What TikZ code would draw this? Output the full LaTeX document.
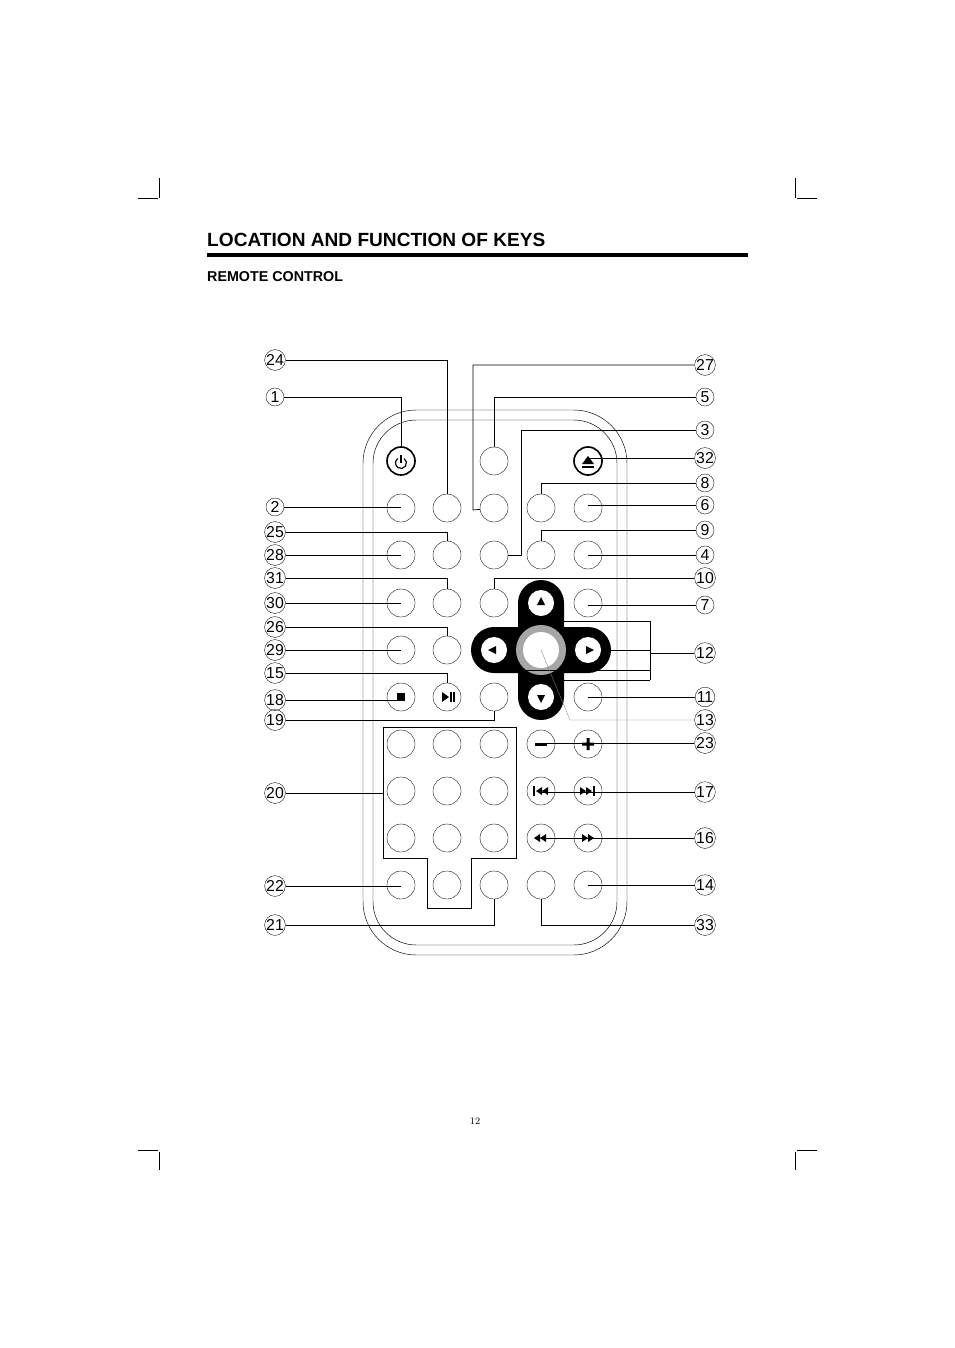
\documentclass[tikz,border=0pt]{standalone}
\usepackage{fontspec}
\setmainfont{Liberation Sans}
\begin{document}
\begin{tikzpicture}[x=0.03cm,y=-0.03cm,
    key/.style={circle,draw,line width=0.3pt,minimum size=0.84cm,inner sep=0},
    bigkey/.style={circle,draw,line width=1.4pt,minimum size=0.84cm,inner sep=0},
    padkey/.style={circle,fill=white,minimum size=0.78cm,inner sep=0},
    callout/.style={circle,draw,line width=0.3pt,inner sep=0,minimum size=0.54cm,font=\fontsize{13.5}{14}\selectfont},
    lead/.style={line width=0.6pt},
    crop/.style={line width=0.6pt}]
\useasboundingbox (0,0) rectangle (954,1348);

% Crop marks
\draw [crop] (159,178) -- (159,198) (138,198) -- (158,198);
\draw [crop] (795,178) -- (795,198) (797,198) -- (817,198);
\draw [crop] (159,1152) -- (159,1170) (138,1150) -- (158,1150);
\draw [crop] (795,1152) -- (795,1170) (797,1150) -- (817,1150);

% Heading
\node [anchor=base west,inner sep=0,font=\bfseries\fontsize{16.3}{18}\selectfont] (title) at (207,246) {LOCATION AND FUNCTION OF KEYS};
\draw [line width=2.6pt] (207,255) -- (748,255);
\node [anchor=base west,inner sep=0,font=\bfseries\fontsize{12.2}{14}\selectfont] (sub) at (207,281) {REMOTE CONTROL};
\node [inner sep=0,font=\fontfamily{lmr}\selectfont\fontsize{8.5}{10}\selectfont] (page) at (475,1121) {12};

% Remote body
\draw [line width=0.4pt,rounded corners=1.6cm] (363,410) rectangle (627,955);
\draw [line width=0.4pt,rounded corners=1.3cm] (373,420) rectangle (617,945);

% Cross pad
\fill [rounded corners=0.69cm] (518,580) rectangle (564,720);
\fill [rounded corners=0.69cm] (471,627) rectangle (611,673);
\fill [gray!70] (541,650) circle [radius=25];
\node [padkey,minimum size=1.08cm] (k54) at (541,650) {};
\node [padkey] (k44) at (541,603) {};
\node [padkey] (k64) at (541,697) {};
\node [padkey] (k53) at (494,650) {};
\node [padkey] (k55) at (588,650) {};
\fill (541,597) -- (537,605) -- (545,605) -- cycle;
\fill (541,703) -- (537,695) -- (545,695) -- cycle;
\fill (488,650) -- (496,646) -- (496,654) -- cycle;
\fill (594,650) -- (586,646) -- (586,654) -- cycle;

% Plain keys
\foreach \r/\y in {2/508,3/555,7/744,8/791,9/838,10/885}
  \foreach \c/\x in {1/401,2/447,3/494,4/541,5/588}
    \node [key] (k\r\c) at (\x,\y) {};
\foreach \n/\x/\y in {13/494/461,41/401/603,42/447/603,43/494/603,45/588/603,
                      51/401/650,52/447/650,61/401/697,62/447/697,63/494/697,65/588/697}
  \node [key] (k\n) at (\x,\y) {};
\node [bigkey] (k11) at (401,461) {};
\node [bigkey] (k15) at (588,461) {};

% Key symbols
\draw [line width=1pt] ([shift={(-55:5.5)}]401,463) arc [start angle=-55,end angle=235,radius=5.5];
\draw [line width=1pt] (401,455) -- (401,463);
\fill (588,456) -- (582,464) -- (594,464) -- cycle;
\draw [line width=1pt] (582,467) -- (594,467);
\fill (397,693) rectangle (405,701);
\fill (442,692) -- (449,697) -- (442,702) -- cycle;
\draw [line width=1.1pt] (451,692) -- (451,702) (454,692) -- (454,702);
\fill (535,742.5) rectangle (547,745.5);
\fill (582,742.5) rectangle (594,745.5) (586.5,738) rectangle (589.5,750);
\draw [line width=1.1pt] (534,786) -- (534,796) (594,786) -- (594,796);
\fill (536,791) -- (542,787) -- (542,795) -- cycle (542,791) -- (548,787) -- (548,795) -- cycle;
\fill (592,791) -- (586,787) -- (586,795) -- cycle (586,791) -- (580,787) -- (580,795) -- cycle;
\fill (534,838) -- (540,834) -- (540,842) -- cycle (540,838) -- (546,834) -- (546,842) -- cycle;
\fill (594,838) -- (588,834) -- (588,842) -- cycle (588,838) -- (582,834) -- (582,842) -- cycle;

% Number pad frame
\draw [lead] (383,727) -- (516,727) -- (516,858) -- (471,858) -- (471,908)
  -- (427,908) -- (427,858) -- (383,858) -- cycle;

% Callouts
\foreach \t/\y in {24/360,1/397,2/507,25/532,28/555,31/578,30/603,26/627,29/650,
                   15/673,18/700,19/720,20/793,22/886,21/925}
  \node [callout] (l\t) at (275,\y) {\t};
\foreach \t/\y in {27/365,5/397,3/430,32/458,8/483,6/505,9/530,4/555,10/578,7/605,
                   12/653,11/697,13/720,23/743,17/792,16/838,14/885,33/925}
  \node [callout] (l\t) at (705,\y) {\t};

% Leaders, left side
\foreach \t/\k in {2/21,28/31,30/41,29/51,18/61,22/101}
  \draw [lead] (l\t) -- (l\t -| k\k);
\foreach \t/\k in {1/11,24/22,25/32,31/42,26/52,15/62}
  \draw [lead] (l\t) -| (k\k);
\draw [lead] (l19) -| (k63);
\draw [lead] (l21) -| (k103);
\draw [lead] (l20) -- (383,793);

% Leaders, right side
\foreach \t/\k in {32/15,6/25,4/35,7/45,11/65,14/105}
  \draw [lead] (l\t) -- (l\t -| k\k);
\foreach \t/\k in {5/13,8/24,9/34,10/43}
  \draw [lead] (l\t) -| (k\k);
\draw [lead] (l33) -| (k104);
\draw [lead] (l27) -| (473,510) -- (k23);
\draw [lead] (l3) -| (521,555) -- (k33);
\foreach \t/\k in {23/74,17/84,16/94}
  \draw [lead] (l\t) -- (l\t -| k\k);
\draw [lead] (l12) -- (650,653);
\draw [lead] (650,621) -- (650,680);
\draw [lead] (650,621) -| (k44);
\draw [lead] (650,650) -- (k55);
\draw [lead] (650,670) -| (k53);
\draw [lead] (650,680) -| (k64);
\draw [line width=0.3pt,gray] (l13) -- (570,720) -- (k54.center);
\end{tikzpicture}
\end{document}
